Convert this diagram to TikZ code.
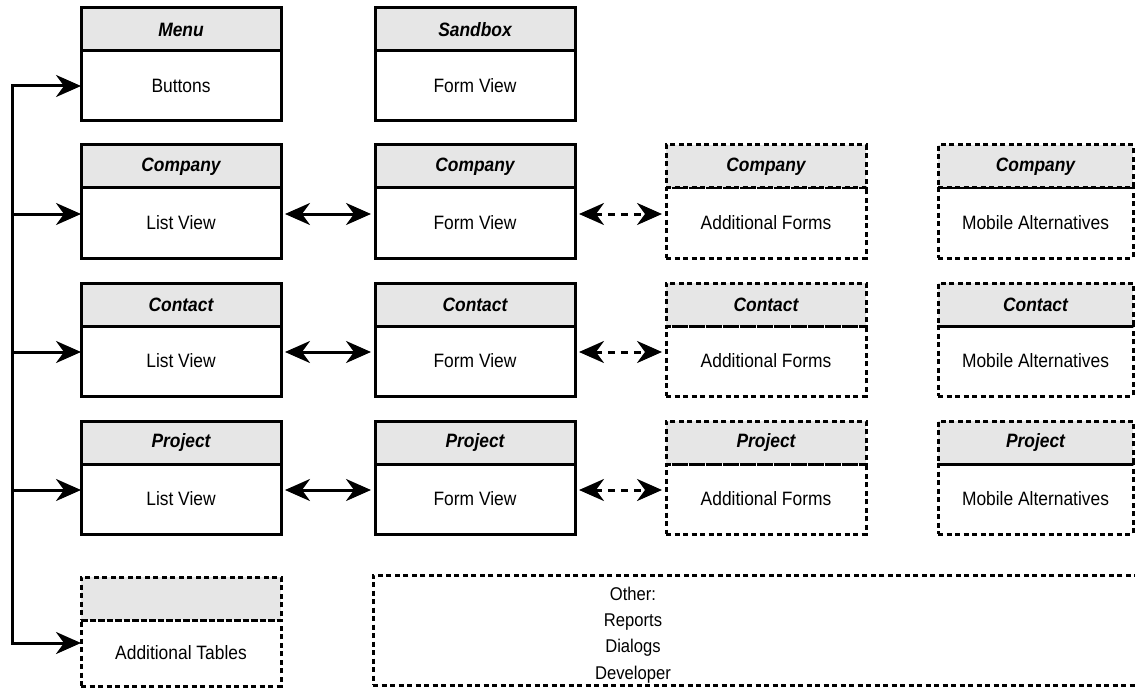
\documentclass[tikz,border=0pt]{standalone}
\usepackage{fontspec}
\setmainfont{Liberation Sans}[FakeStretch=0.9]
\usetikzlibrary{positioning,arrows.meta}
\definecolor{headgray}{HTML}{E6E6E6}

\tikzset{
  viewbox/.style={draw, line width=0.06cm, minimum width=4cm, outer sep=0pt, inner sep=2pt,
    font=\fontsize{11}{12}\selectfont},
  viewhead/.style={viewbox, fill=headgray, minimum height=0.86cm,
    font=\fontsize{11}{12}\selectfont\bfseries\itshape},
  viewbody/.style={viewbox, minimum height=1.4cm},
  broken/.style={dash pattern=on 0.1cm off 0.07cm},
  link/.style={line width=0.06cm, -{Stealth[length=0.5cm,width=0.44cm,inset=0.16cm]}},
  twoway/.style={link, {Stealth[length=0.5cm,width=0.44cm,inset=0.16cm]}-{Stealth[length=0.5cm,width=0.44cm,inset=0.16cm]},
    shorten <=0.08cm, shorten >=0.08cm},
}

\begin{document}
\begin{tikzpicture}

  \useasboundingbox (0,0) rectangle (22.7,13.76);

  % top row
  \node[viewhead, anchor=north] (menuH) at (3.62,13.6) {Menu};
  \node[viewbody, below=0pt of menuH] (menu) {Buttons};
  \node[viewhead, anchor=north] (sandH) at (9.5,13.6) {Sandbox};
  \node[viewbody, below=0pt of sandH] (sand) {Form View};

  % one row per table
  \foreach \name/\title/\top in {comp/Company/10.86, cont/Contact/8.1, proj/Project/5.34} {
    \node[viewhead, anchor=north] (\name-listH) at (3.62,\top) {\title};
    \node[viewbody, below=0pt of \name-listH] (\name-list) {List View};
    \node[viewhead, anchor=north] (\name-formH) at (9.5,\top) {\title};
    \node[viewbody, below=0pt of \name-formH] (\name-form) {Form View};
    \node[viewhead, broken, anchor=north] (\name-addH) at (15.32,\top) {\title};
    \node[viewbody, broken, below=0pt of \name-addH] (\name-add) {Additional Forms};
    \node[viewhead, broken, minimum width=3.9cm, anchor=north] (\name-mobH) at (20.71,\top) {\title};
    \node[viewbody, broken, minimum width=3.9cm, below=0pt of \name-mobH] (\name-mob) {Mobile Alternatives};

    \coordinate (\name-in) at ([yshift=0.18cm]\name-list.west);
    \draw[twoway] ([yshift=0.18cm]\name-list.east) -- ([yshift=0.18cm]\name-form.west);
    \draw[twoway, dash pattern=on 0.14cm off 0.12cm] ([yshift=0.18cm]\name-form.east) -- ([yshift=0.18cm]\name-add.west);
  }

  % bottom row
  \node[viewhead, broken, anchor=north] (tablesH) at (3.62,2.22) {};
  \node[viewbody, broken, minimum height=1.32cm, below=0pt of tablesH] (tables) {Additional Tables};
  \coordinate (tables-in) at ([yshift=0.2cm]tables.west);

  \node[draw, broken, line width=0.06cm, anchor=north west, minimum width=16cm, minimum height=2.2cm,
    outer sep=0pt] (others) at (7.46,2.26) {};
  \node[align=center, font=\fontsize{10.5}{15}\selectfont] (otherText) at (12.66,1.06)
    {Other:\\Reports\\Dialogs\\Developer};

  % menu spine
  \coordinate (spine) at (0.26,0);
  \draw[line width=0.06cm, line cap=rect] (spine |- menu.west) -- (spine |- tables-in);
  \draw[link] (spine |- menu.west) -- (menu.west);
  \foreach \name in {comp, cont, proj, tables}
    \draw[link] (spine |- \name-in) -- (\name-in);

\end{tikzpicture}
\end{document}
